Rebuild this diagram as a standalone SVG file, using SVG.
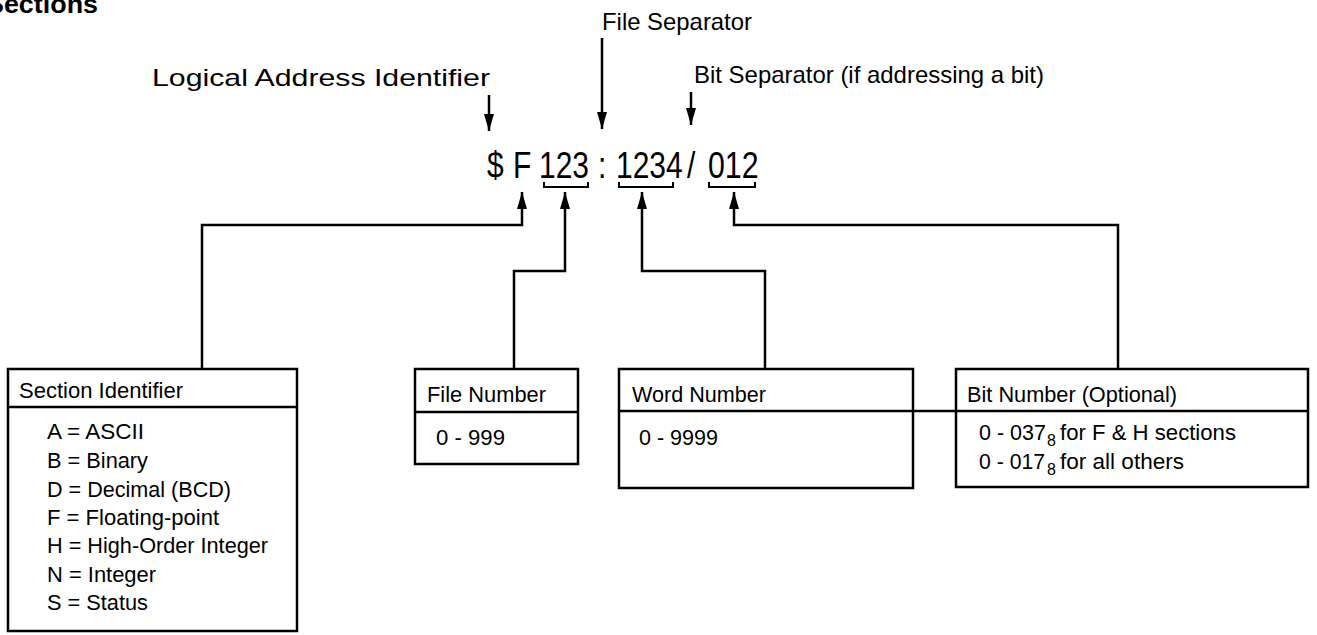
<svg xmlns="http://www.w3.org/2000/svg" width="1317" height="635" viewBox="0 0 1317 635">
  <style>
    text { font-family: "Liberation Sans", Arial, sans-serif; fill: #000; }
    .lbl { font-size: 24px; }
    .box-text { font-size: 22px; }
    .addr { font-size: 37px; }
    .title { font-size: 26px; font-weight: bold; }
    .box { fill: #fff; stroke: #000; stroke-width: 2.5; }
    .div { stroke: #000; stroke-width: 2.5; fill: none; }
    .wire { stroke: #000; stroke-width: 2.5; fill: none; }
    .arrow { marker-end: url(#head); }
    .bracket { stroke: #000; stroke-width: 2; fill: none; }
  </style>
  <defs>
    <marker id="head" viewBox="0 0 17 10" refX="17" refY="5" markerWidth="17" markerHeight="10" markerUnits="userSpaceOnUse" orient="auto">
      <path d="M0,0 L17,5 L0,10 z" fill="#000"/>
    </marker>
  </defs>

  <rect width="1317" height="635" fill="#fff"/>

  <text class="title" x="-14" y="13" textLength="112" lengthAdjust="spacingAndGlyphs">Sections</text>

  <!-- address string (condensed horizontally) and brackets -->
  <g id="address">
    <text class="addr" transform="translate(487,178) scale(0.81,1)">$</text>
    <text class="addr" transform="translate(513,178) scale(0.81,1)">F</text>
    <text class="addr" transform="translate(539,178) scale(0.81,1)">123</text>
    <text class="addr" transform="translate(598,178) scale(0.81,1)">:</text>
    <text class="addr" transform="translate(616,178) scale(0.81,1)">1234</text>
    <text class="addr" transform="translate(687,178) scale(0.81,1)">/</text>
    <text class="addr" transform="translate(708,178) scale(0.82,1)">012</text>
    <path class="bracket" d="M544,182 V187 H588 V182"/>
    <path class="bracket" d="M619,182 V187 H673 V182"/>
    <path class="bracket" d="M709,182 V187 H755 V182"/>
  </g>

  <!-- labels above the string -->
  <g id="label-file-separator">
    <text class="lbl" x="602" y="30" textLength="150" lengthAdjust="spacingAndGlyphs">File Separator</text>
  </g>
  <g id="label-logical-address">
    <text class="lbl" x="152" y="86" textLength="338" lengthAdjust="spacingAndGlyphs">Logical Address Identifier</text>
  </g>
  <g id="label-bit-separator">
    <text class="lbl" x="694" y="83" textLength="350" lengthAdjust="spacingAndGlyphs">Bit Separator (if addressing a bit)</text>
  </g>

  <!-- connectors -->
  <g id="connectors">
    <path class="wire arrow" d="M489,95 V131"/>
    <path class="wire arrow" d="M602,38 V129"/>
    <path class="wire arrow" d="M691,92 V125"/>
    <path class="wire arrow" d="M202,369 V225 H522 V192"/>
    <path class="wire arrow" d="M514,369 V271 H565 V192"/>
    <path class="wire arrow" d="M765,369 V271 H642 V192"/>
    <path class="wire arrow" d="M1118,369 V225 H734 V192"/>
    <path class="div" d="M913,411 H956"/>
  </g>

  <!-- Section Identifier -->
  <g id="section-identifier">
    <rect class="box" x="8" y="369" width="289" height="262"/>
    <path class="div" d="M8,407 H297"/>
    <text class="box-text" x="19" y="398" textLength="164" lengthAdjust="spacingAndGlyphs">Section Identifier</text>
    <text class="box-text" x="47" y="439" textLength="97" lengthAdjust="spacingAndGlyphs">A = ASCII</text>
    <text class="box-text" x="47" y="468" textLength="101" lengthAdjust="spacingAndGlyphs">B = Binary</text>
    <text class="box-text" x="47" y="497" textLength="184" lengthAdjust="spacingAndGlyphs">D = Decimal (BCD)</text>
    <text class="box-text" x="47" y="525" textLength="172" lengthAdjust="spacingAndGlyphs">F = Floating-point</text>
    <text class="box-text" x="47" y="553" textLength="221" lengthAdjust="spacingAndGlyphs">H = High-Order Integer</text>
    <text class="box-text" x="47" y="582" textLength="109" lengthAdjust="spacingAndGlyphs">N = Integer</text>
    <text class="box-text" x="47" y="610" textLength="101" lengthAdjust="spacingAndGlyphs">S = Status</text>
  </g>

  <!-- File Number -->
  <g id="file-number">
    <rect class="box" x="415" y="369" width="163" height="95"/>
    <path class="div" d="M415,412 H578"/>
    <text class="box-text" x="427" y="402" textLength="119" lengthAdjust="spacingAndGlyphs">File Number</text>
    <text class="box-text" x="436" y="445" textLength="69" lengthAdjust="spacingAndGlyphs">0 - 999</text>
  </g>

  <!-- Word Number -->
  <g id="word-number">
    <rect class="box" x="619" y="369" width="294" height="119"/>
    <path class="div" d="M619,411 H913"/>
    <text class="box-text" x="632" y="402" textLength="134" lengthAdjust="spacingAndGlyphs">Word Number</text>
    <text class="box-text" x="639" y="445" textLength="79" lengthAdjust="spacingAndGlyphs">0 - 9999</text>
  </g>

  <!-- Bit Number -->
  <g id="bit-number">
    <rect class="box" x="956" y="369" width="352" height="118"/>
    <path class="div" d="M956,411 H1308"/>
    <text class="box-text" x="967" y="402" textLength="210" lengthAdjust="spacingAndGlyphs">Bit Number (Optional)</text>
    <text class="box-text" y="440"><tspan x="979" textLength="67" lengthAdjust="spacingAndGlyphs">0 - 037</tspan><tspan x="1047" dy="6" font-size="16">8</tspan><tspan x="1060" dy="-6" textLength="176" lengthAdjust="spacingAndGlyphs">for F &amp; H sections</tspan></text>
    <text class="box-text" y="469"><tspan x="979" textLength="66" lengthAdjust="spacingAndGlyphs">0 - 017</tspan><tspan x="1047" dy="6" font-size="16">8</tspan><tspan x="1060" dy="-6" textLength="124" lengthAdjust="spacingAndGlyphs">for all others</tspan></text>
  </g>
</svg>
